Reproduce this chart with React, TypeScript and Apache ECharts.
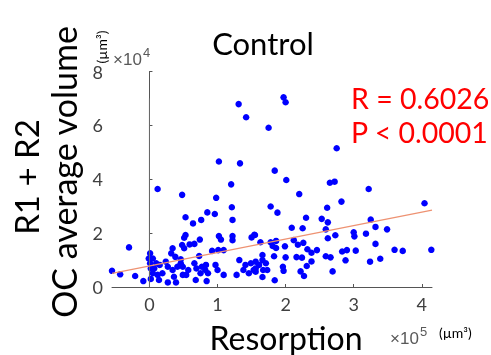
import React, { useEffect, useRef } from "react";
import * as echarts from "echarts";

// x: resorption (×10^5 µm³), y: OC average volume (×10^4 µm³)
const xTicks = [0, 1, 2, 3, 4];
const yTicks = [0, 2, 4, 6, 8];
const resorption = [
  1.31, 1.42, 1.02, 1.33, 1.20, 0.12, 0.48, 0.98, 1.21,
  1.97, 2.00, 1.75, 2.75, 1.84, 2.01, 2.65, 2.72, 2.20, 3.22,
  1.78, 1.88, 2.82, 2.61, 4.04, 3.25, 2.30, 2.53, 2.62, 3.32, 3.49, 2.09, 2.25, 2.59, 3.00, 3.01, 3.18, 2.62, 2.73,
  1.54, 1.63, 2.12, 2.18, 2.26, 1.78, 1.81, 1.86, 1.86, 1.99, 3.32, 2.32, 2.38, 2.46, 2.83, 2.90, 3.03, 3.60, 3.72, 4.14,
  1.66, 1.83, 2.00, 2.16, 2.24, 2.59, 2.66, 2.88, 2.38, 3.24, 3.39, 2.31, 1.96, 1.97, 2.22, 2.27, 2.69, 1.73, 1.66, 1.84,
  1.66, 1.61, 1.56, 1.71, 1.56, 1.67,
  0.85, 0.96, 0.53, 0.76, 0.64, 1.22, 0.53, 0.51, 0.48, 0.59, 0.66, 0.74, 1.02, 1.05, 1.22, 1.22, 1.50, 1.55,
  0.51, 0.92, 1.01, 1.09, 0.73, 0.46, 0.49, 0.57, 0.66, 0.69, 0.77, 0.83, 0.82, 0.75, 0.86, 0.54, 0.68, 0.84,
  0.97, 1.00, 1.09, 1.32, 1.41, 1.49, 1.53, 1.46, 1.56, 1.28, 1.38,
  -0.30, 0.34, 0.32, 0.38, 0.01, -0.01, 0.05, -0.55, -0.43, -0.21, -0.09, 0.07, 0.10, 0.15, 0.24, 0.27, 0.34,
  0.41, 0.46, 0.05, 0.12, 0.19, 0.02, 0.14, 0.27, 0.36, 0.39, 0.49, 0.02, 0.01,
];
const volume = [
  6.79, 6.30, 4.66, 4.59, 3.81, 3.64, 3.42, 3.31, 2.96,
  7.04, 6.86, 5.91, 5.15, 4.32, 3.97, 3.87, 3.91, 3.45, 3.64,
  2.99, 2.76, 3.17, 2.94, 3.11, 2.50, 2.57, 2.53, 2.40, 2.23, 2.14, 2.20, 2.18, 2.14, 2.03, 1.88, 1.98, 1.81, 1.92,
  1.94, 1.66, 1.74, 1.57, 1.64, 1.66, 1.52, 1.45, 1.71, 1.51, 1.60, 1.40, 1.27, 1.37, 1.32, 1.37, 1.35, 1.38, 1.34, 1.38,
  1.19, 1.14, 1.10, 1.11, 1.09, 1.14, 1.10, 0.99, 0.95, 0.94, 1.05, 0.78, 0.75, 0.60, 0.58, 0.41, 0.58, 0.63, 0.37, 0.25,
  1.00, 0.82, 0.94, 0.88, 0.69, 0.63,
  2.77, 2.71, 2.59, 2.49, 2.36, 2.49, 1.93, 1.83, 1.56, 1.58, 1.60, 1.76, 1.89, 1.76, 1.89, 1.74, 1.84, 1.93,
  1.44, 1.34, 1.37, 1.37, 1.15, 1.03, 0.75, 0.63, 0.88, 0.69, 0.75, 0.82, 0.63, 0.51, 0.51, 0.45, 0.26, 0.22,
  0.82, 0.63, 0.45, 1.00, 0.82, 0.88, 0.63, 0.51, 0.57, 0.45, 0.63,
  1.47, 1.44, 1.25, 1.12, 1.25, 1.06, 1.06, 0.60, 0.47, 0.41, 0.22, 0.69, 0.88, 0.82, 0.94, 0.75, 0.63,
  0.75, 0.88, 0.51, 0.45, 0.51, 0.30, 0.26, 0.17, 0.38, 0.17, 0.45, 0.69, 0.88,
];
const xRange = [-0.55, 4.15];
const yRange = [0, 8];
const fitIntercept = 0.78;
const fitSlope = 0.5;
const zeroLineTop = 7;
const titleText = "Control";
const statsLines = ["R = 0.6026", "P < 0.0001"];

const FONT = "Lato, 'Open Sans', sans-serif";
const MFONT = "'Liberation Sans', sans-serif";

export default function App() {
  const ref = useRef<HTMLDivElement>(null);
  useEffect(() => {
    const chart = echarts.init(ref.current!, null, { renderer: "svg" });
    const points = resorption.map((x, i) => [x, volume[i]]);
    const fit = xRange.map((x) => [x, fitIntercept + fitSlope * x]);
    const axisColor = "#555555";
    const labelColor = "#404040";
    chart.setOption({
      animation: false,
      grid: { left: 112, top: 71.5, right: 59, bottom: 68 },
      xAxis: {
        type: "value",
        min: xRange[0],
        max: xRange[1],
        axisLine: { lineStyle: { color: axisColor, width: 1 } },
        axisTick: { inside: true, length: 3, customValues: xTicks, lineStyle: { color: axisColor } },
        axisLabel: { customValues: xTicks, color: labelColor, fontSize: 18, fontFamily: FONT, margin: 8 },
        splitLine: { show: false },
      },
      yAxis: {
        type: "value",
        min: yRange[0],
        max: yRange[1],
        axisLine: { show: true, lineStyle: { color: axisColor, width: 1 } },
        axisTick: { show: true, inside: true, length: 3, customValues: yTicks, lineStyle: { color: axisColor } },
        axisLabel: { customValues: yTicks, color: labelColor, fontSize: 18, fontFamily: FONT, margin: 9 },
        splitLine: { show: false },
      },
      series: [
        {
          type: "line",
          data: [[0, 0], [0, zeroLineTop]],
          symbol: "none",
          lineStyle: { color: "#6a6a6a", width: 1 },
          silent: true,
        },
        {
          type: "line",
          data: fit,
          symbol: "none",
          lineStyle: { color: "#EE9272", width: 1.2 },
          silent: true,
        },
        {
          type: "scatter",
          data: points,
          symbolSize: 6.5,
          itemStyle: { color: "#0000FF", opacity: 1 },
        },
      ],
      graphic: [
        { type: "text", x: 263, y: 43, style: { text: titleText, fontSize: 31, fontFamily: FONT, fill: "#000", align: "center", verticalAlign: "middle" } },
        { type: "text", x: 351, y: 98, style: { text: statsLines[0], fontSize: 28.5, fontFamily: FONT, fill: "#ff0000", align: "left", verticalAlign: "middle" } },
        { type: "text", x: 351, y: 132, style: { text: statsLines[1], fontSize: 28.5, fontFamily: FONT, fill: "#ff0000", align: "left", verticalAlign: "middle" } },
        { type: "text", x: 26, y: 177, rotation: Math.PI / 2, style: { text: "R1 + R2", fontSize: 33, fontFamily: FONT, fill: "#000", align: "center", verticalAlign: "middle" } },
        { type: "text", x: 63, y: 172, rotation: Math.PI / 2, style: { text: "OC average volume", fontSize: 34, fontFamily: FONT, fill: "#000", align: "center", verticalAlign: "middle" } },
        { type: "text", x: 101, y: 47, rotation: Math.PI / 2, style: { text: "(µm³)", fontSize: 14, fontFamily: FONT, fill: "#000", align: "center", verticalAlign: "middle" } },
        { type: "text", x: 113, y: 59, style: { text: "×10", fontSize: 17, fontFamily: MFONT, fill: "#595959", align: "left", verticalAlign: "middle" } },
        { type: "text", x: 143, y: 52, style: { text: "4", fontSize: 13, fontFamily: MFONT, fill: "#595959", align: "left", verticalAlign: "middle" } },
        { type: "text", x: 286, y: 337, style: { text: "Resorption", fontSize: 32, fontFamily: FONT, fill: "#000", align: "center", verticalAlign: "middle" } },
        { type: "text", x: 390, y: 338, style: { text: "×10", fontSize: 17, fontFamily: MFONT, fill: "#595959", align: "left", verticalAlign: "middle" } },
        { type: "text", x: 420, y: 331, style: { text: "5", fontSize: 13, fontFamily: MFONT, fill: "#595959", align: "left", verticalAlign: "middle" } },
        { type: "text", x: 439, y: 332, style: { text: "(µm³)", fontSize: 14, fontFamily: FONT, fill: "#000", align: "left", verticalAlign: "middle" } },
      ],
    });
    return () => chart.dispose();
  }, []);
  return <div ref={ref} style={{ position: "fixed", left: 0, top: 0, width: 491, height: 355 }} />;
}
